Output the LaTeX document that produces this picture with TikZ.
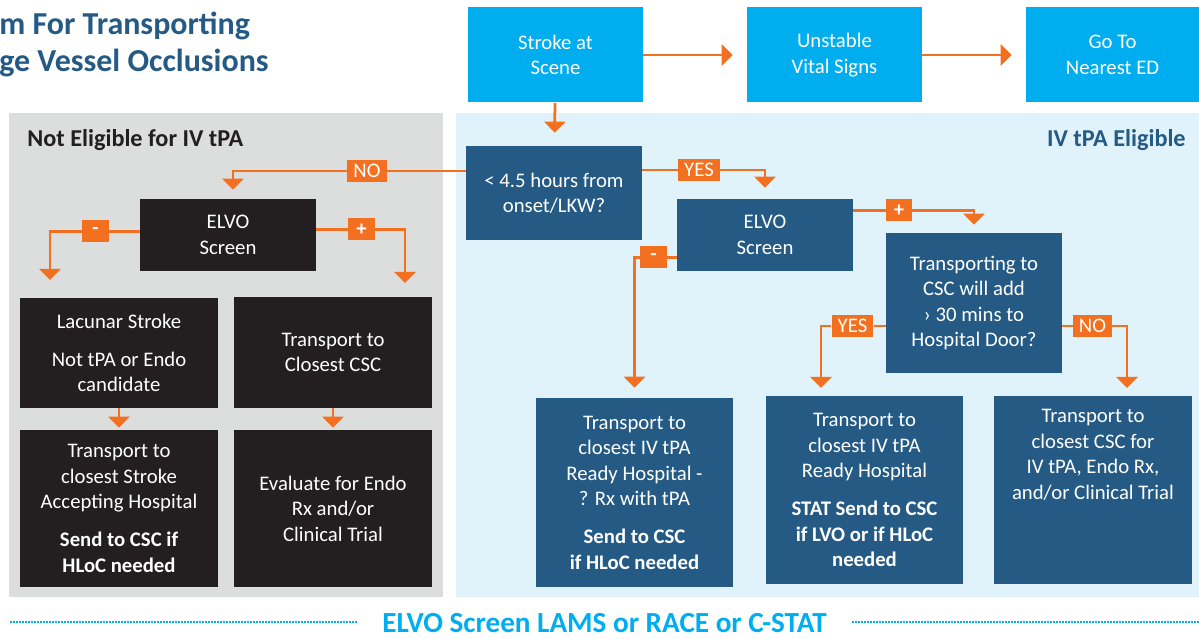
\documentclass[tikz,border=0pt]{standalone}
\usepackage{fontspec}
\setmainfont{Carlito}
\usetikzlibrary{positioning, arrows.meta}

\definecolor{flowor}{HTML}{F37021}
\definecolor{boxblue}{HTML}{245A84}
\definecolor{topcyan}{HTML}{00AEEF}
\definecolor{boxblack}{HTML}{231F20}
\definecolor{panelgray}{HTML}{DCDDDD}
\definecolor{panelblue}{HTML}{E0F2FA}

\pgfdeclarelayer{panels}
\pgfdeclarelayer{lines}
\pgfsetlayers{panels,lines,main}

\tikzset{
  txt/.style={font=\fontsize{11.8}{14.5}\selectfont, text=white, align=center, inner sep=0pt},
  topbox/.style={txt, fill=topcyan, minimum width=35mm, minimum height=19mm},
  bluebox/.style={txt, fill=boxblue, minimum width=35.2mm},
  darkbox/.style={txt, fill=boxblack, minimum width=39.6mm},
  tag/.style={font=\fontsize{11.8}{13}\selectfont, text=white, fill=flowor,
    minimum height=4.4mm, inner xsep=1.2mm, inner ysep=0pt},
  link/.style={draw=flowor, line width=0.55mm},
  flow/.style={link, -{Triangle[width=4.2mm,length=2.2mm]}},
  heading/.style={font=\fontsize{13.8}{16}\selectfont\bfseries},
}

\begin{document}
\begin{tikzpicture}[x=0.2mm, y=-0.2mm]
    \useasboundingbox (0,0) rectangle (1199,639);
    \begin{pgfonlayer}{panels}
        \fill[panelgray] (9,113) rectangle (443,597);
        \fill[panelblue] (456,113) rectangle (1199,597);
    \end{pgfonlayer}

    % title, cut at the left edge
    \node[font=\fontsize{18.2}{22}\selectfont\bfseries, text=boxblue, anchor=base west, inner sep=0pt] (title1) at (-1,35) {m For Transporting};
    \node[font=\fontsize{18.2}{22}\selectfont\bfseries, text=boxblue, anchor=base west, inner sep=0pt] (title2) at (-1,72) {ge Vessel Occlusions};

    \node[heading, text=boxblack, anchor=west, inner sep=0pt] (notelig) at (27,140) {Not Eligible for IV tPA};
    \node[heading, text=boxblue, anchor=east, inner sep=0pt] (elig) at (1186,140) {IV tPA Eligible};

    % top row
    \node[topbox] (scene) at (555.5,55) {Stroke at\\Scene};
    \node[topbox] (vitals) at (834.5,55) {Unstable\\Vital Signs};
    \node[topbox, minimum width=34.6mm] (nearest) at (1112.5,55) {Go To\\Nearest ED};

    \node[bluebox, minimum height=18.8mm] (onset) at (554,193) {< 4.5 hours from\\onset/LKW?};

    % not eligible side
    \node[darkbox, minimum width=35.2mm, minimum height=14.4mm] (elvoL) at (228,235) {ELVO\\Screen};
    \node[darkbox, minimum height=22mm] (lacunar) at (119,353) {Lacunar Stroke\\[2.5mm]Not tPA or Endo\\candidate};
    \node[darkbox, minimum height=22.2mm] (closest) at (333,352.5) {Transport to\\Closest CSC};
    \node[darkbox, minimum height=31.4mm] (accept) at (119,508.5) {Transport to\\closest Stroke\\Accepting Hospital\\[2.5mm]\bfseries Send to CSC if\\\bfseries HLoC needed};
    \node[darkbox, minimum height=31.4mm] (endo) at (333,508.5) {Evaluate for Endo\\Rx and/or\\Clinical Trial};

    % eligible side
    \node[bluebox, minimum height=14.4mm] (elvoR) at (765,235) {ELVO\\Screen};
    \node[bluebox, minimum height=28mm] (door) at (974,303) {Transporting to\\CSC will add\\› 30 mins to\\Hospital Door?};
    \node[bluebox, minimum width=39.4mm, minimum height=37.8mm] (ivready) at (634.5,492.5) {Transport to\\closest IV tPA\\Ready Hospital -\\? Rx with tPA\\[2.5mm]\bfseries Send to CSC\\\bfseries if HLoC needed};
    \node[bluebox, minimum width=39.4mm, minimum height=37.6mm] (ivstat) at (864.5,490) {Transport to\\closest IV tPA\\Ready Hospital\\[2.5mm]\bfseries STAT Send to CSC\\\bfseries if LVO or if HLoC\\\bfseries needed};
    \node[bluebox, minimum width=39.6mm, minimum height=37.6mm] (csc) at (1093,490) {};
    \node[txt, anchor=north] (csctxt) at (1093,409) {Transport to\\closest CSC for\\IV tPA, Endo Rx,\\and/or Clinical Trial};

    % tags on the connectors
    \node[tag] (no1) at (367,171) {NO};
    \node[tag] (yes1) at (699,170) {YES};
    \node[tag, minimum width=5.4mm, inner xsep=0pt] (minusL) at (95.5,231.5) {\bfseries -};
    \node[tag, minimum width=5.4mm, inner xsep=0pt] (plusL) at (361.5,229.5) {\bfseries +};
    \node[tag, minimum width=5.2mm, inner xsep=0pt] (plusR) at (899,210.5) {\bfseries +};
    \node[tag, minimum width=5.4mm, inner xsep=0pt] (minusR) at (653.5,257.5) {\bfseries -};
    \node[tag] (yes2) at (852.5,326) {YES};
    \node[tag] (no2) at (1092.5,326) {NO};

    \coordinate (endML) at (50,280);
    \coordinate (endPL) at (405,283);
    \coordinate (endY2) at (821,388);
    \coordinate (endN2) at (1127,388);

    \begin{pgfonlayer}{lines}
        \draw[flow, shorten >=2.8mm] (scene) -- (vitals);
        \draw[flow, shorten >=2.8mm] (vitals) -- (nearest);
        \draw[flow, shorten >=2.6mm] (scene) -- (onset);
        \draw[link] (no1) -- (no1 -| onset.west);
        \draw[flow, shorten >=1.8mm] (no1) -| ([xshift=1mm]elvoL.north);
        \draw[link] (yes1) -- (yes1 -| onset.east);
        \draw[flow, shorten >=2.2mm] (yes1) -| (elvoR.north);
        \draw[link] (minusL) -- (minusL -| elvoL.west);
        \draw[flow] (minusL) -| (endML);
        \draw[link] (plusL) -- (plusL -| elvoL.east);
        \draw[flow] (plusL) -| (endPL);
        \draw[flow, shorten >=0.4mm] (lacunar) -- (accept);
        \draw[flow, shorten >=0.4mm] (closest) -- (endo);
        \draw[link] (plusR) -- (plusR -| elvoR.east);
        \draw[flow, shorten >=1.6mm] (plusR) -| (door.north);
        \draw[link] (minusR) -- (minusR -| elvoR.west);
        \draw[flow, shorten >=2mm] (minusR) -| (ivready.north);
        \draw[link] (yes2) -- (yes2 -| door.west);
        \draw[flow] (yes2) -| (endY2);
        \draw[link] (no2) -- (no2 -| door.east);
        \draw[flow] (no2) -| (endN2);
    \end{pgfonlayer}

    % footer
    \node[font=\fontsize{16.6}{20}\selectfont\bfseries, text=topcyan, anchor=base, inner sep=0pt] (footer) at (604.5,632) {ELVO Screen LAMS or RACE or C-STAT};
    \draw[topcyan, line width=0.4mm, dash pattern=on 0.3mm off 0.3mm] (10,622) -- (357,622);
    \draw[topcyan, line width=0.4mm, dash pattern=on 0.3mm off 0.3mm] (852,622) -- (1199,622);
\end{tikzpicture}
\end{document}
